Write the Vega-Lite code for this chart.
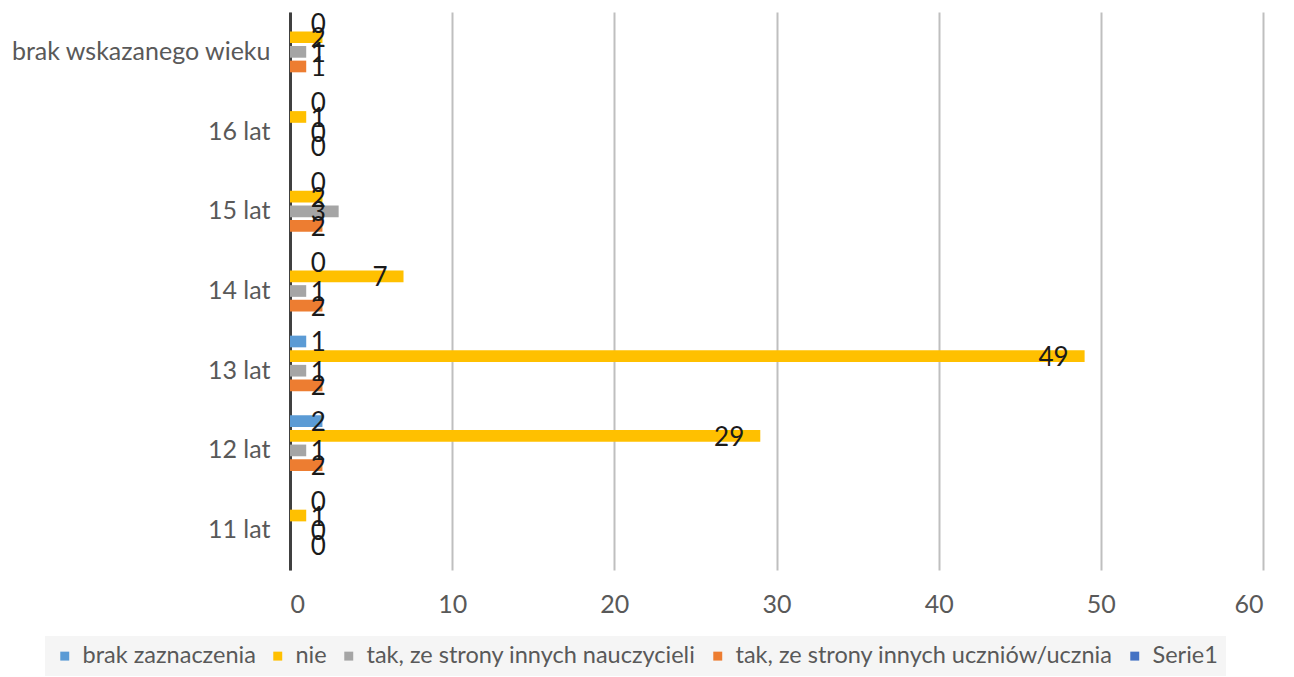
{
  "$schema": "https://vega.github.io/schema/vega-lite/v6.json",
  "width": 973,
  "height": 558,
  "autosize": "none",
  "padding": {"left": 290, "top": 12, "right": 31, "bottom": 107},
  "background": "white",
  "config": {"view": {"stroke": null}, "font": "Lato"},
  "data": {"values": [
    {"wiek": "brak wskazanego wieku", "seria": "brak zaznaczenia", "wartosc": 0},
    {"wiek": "brak wskazanego wieku", "seria": "nie", "wartosc": 2},
    {"wiek": "brak wskazanego wieku", "seria": "tak, ze strony innych nauczycieli", "wartosc": 1},
    {"wiek": "brak wskazanego wieku", "seria": "tak, ze strony innych uczniów/ucznia", "wartosc": 1},
    {"wiek": "16 lat", "seria": "brak zaznaczenia", "wartosc": 0},
    {"wiek": "16 lat", "seria": "nie", "wartosc": 1},
    {"wiek": "16 lat", "seria": "tak, ze strony innych nauczycieli", "wartosc": 0},
    {"wiek": "16 lat", "seria": "tak, ze strony innych uczniów/ucznia", "wartosc": 0},
    {"wiek": "15 lat", "seria": "brak zaznaczenia", "wartosc": 0},
    {"wiek": "15 lat", "seria": "nie", "wartosc": 2},
    {"wiek": "15 lat", "seria": "tak, ze strony innych nauczycieli", "wartosc": 3},
    {"wiek": "15 lat", "seria": "tak, ze strony innych uczniów/ucznia", "wartosc": 2},
    {"wiek": "14 lat", "seria": "brak zaznaczenia", "wartosc": 0},
    {"wiek": "14 lat", "seria": "nie", "wartosc": 7},
    {"wiek": "14 lat", "seria": "tak, ze strony innych nauczycieli", "wartosc": 1},
    {"wiek": "14 lat", "seria": "tak, ze strony innych uczniów/ucznia", "wartosc": 2},
    {"wiek": "13 lat", "seria": "brak zaznaczenia", "wartosc": 1},
    {"wiek": "13 lat", "seria": "nie", "wartosc": 49},
    {"wiek": "13 lat", "seria": "tak, ze strony innych nauczycieli", "wartosc": 1},
    {"wiek": "13 lat", "seria": "tak, ze strony innych uczniów/ucznia", "wartosc": 2},
    {"wiek": "12 lat", "seria": "brak zaznaczenia", "wartosc": 2},
    {"wiek": "12 lat", "seria": "nie", "wartosc": 29},
    {"wiek": "12 lat", "seria": "tak, ze strony innych nauczycieli", "wartosc": 1},
    {"wiek": "12 lat", "seria": "tak, ze strony innych uczniów/ucznia", "wartosc": 2},
    {"wiek": "11  lat", "seria": "brak zaznaczenia", "wartosc": 0},
    {"wiek": "11  lat", "seria": "nie", "wartosc": 1},
    {"wiek": "11  lat", "seria": "tak, ze strony innych nauczycieli", "wartosc": 0},
    {"wiek": "11  lat", "seria": "tak, ze strony innych uczniów/ucznia", "wartosc": 0}
  ]},
  "encoding": {
    "y": {
      "field": "wiek", "type": "nominal",
      "sort": ["brak wskazanego wieku", "16 lat", "15 lat", "14 lat", "13 lat", "12 lat", "11  lat"],
      "scale": {"paddingInner": 0.12, "paddingOuter": 0.06},
      "axis": {"title": null, "labelFontSize": 25, "labelColor": "#595959", "labelPadding": 20, "ticks": false, "domain": true, "domainColor": "#404040", "domainWidth": 3, "labelLimit": 300}
    },
    "yOffset": {
      "field": "seria", "type": "nominal",
      "scale": {"domain": ["brak zaznaczenia", "nie", "tak, ze strony innych nauczycieli", "tak, ze strony innych uczniów/ucznia", "Serie1"], "paddingInner": 0.2, "paddingOuter": 0}
    }
  },
  "layer": [
    {
      "mark": {"type": "bar"},
      "encoding": {
        "x": {
          "field": "wartosc", "type": "quantitative",
          "scale": {"domain": [0, 60]},
          "axis": {"title": null, "values": [0, 10, 20, 30, 40, 50, 60], "labelFontSize": 25, "labelColor": "#595959", "labelPadding": 22, "ticks": false, "domain": false, "grid": true, "gridColor": "#BFBFBF", "gridWidth": 2}
        },
        "color": {
          "field": "seria", "type": "nominal",
          "scale": {"domain": ["brak zaznaczenia", "nie", "tak, ze strony innych nauczycieli", "tak, ze strony innych uczniów/ucznia", "Serie1"], "range": ["#5B9BD5", "#FFC000", "#A5A5A5", "#ED7D31", "#4472C4"]},
          "legend": {
            "title": null, "orient": "none", "direction": "horizontal", "columns": 5,
            "legendX": -245, "legendY": 624,
            "labelFontSize": 23.5, "labelColor": "#595959", "symbolType": "square", "symbolSize": 80,
            "symbolStrokeWidth": 0, "columnPadding": 10, "labelOffset": 6,
            "fillColor": "#F5F5F5", "padding": 8, "labelLimit": 450
          }
        }
      }
    },
    {
      "transform": [{"filter": "datum.wartosc >= 5"}],
      "mark": {"type": "text", "align": "right", "baseline": "middle", "dx": -16, "dy": 2, "fontSize": 26, "color": "#1a1a1a"},
      "encoding": {
        "x": {"field": "wartosc", "type": "quantitative"},
        "text": {"field": "wartosc", "type": "quantitative"}
      }
    },
    {
      "transform": [{"filter": "datum.wartosc < 5"}],
      "mark": {"type": "text", "align": "center", "baseline": "middle", "dy": 2, "fontSize": 26, "color": "#1a1a1a"},
      "encoding": {
        "x": {"datum": 1.75},
        "text": {"field": "wartosc", "type": "quantitative"}
      }
    }
  ]
}
